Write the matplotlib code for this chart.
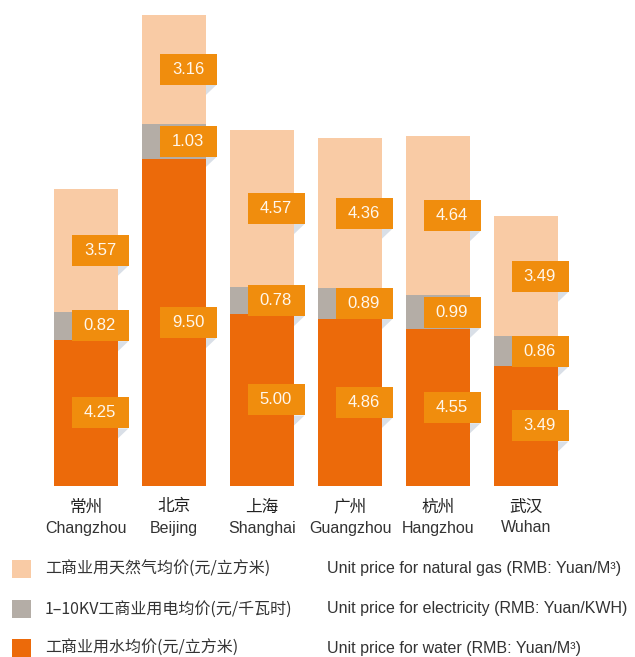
import matplotlib
matplotlib.use("Agg")
import matplotlib.pyplot as plt
import matplotlib.transforms as mtransforms
from matplotlib.patches import Rectangle, Polygon
import numpy as np

cities_cn = ["常州", "北京", "上海", "广州", "杭州", "武汉"]
cities_en = ["Changzhou", "Beijing", "Shanghai", "Guangzhou", "Hangzhou", "Wuhan"]
water = [4.25, 9.50, 5.00, 4.86, 4.55, 3.49]
electricity = [0.82, 1.03, 0.78, 0.89, 0.99, 0.86]
gas = [3.57, 3.16, 4.57, 4.36, 4.64, 3.49]

legend_cn = ["工商业用天然气均价(元/立方米)", "1–10KV工商业用电均价(元/千瓦时)", "工商业用水均价(元/立方米)"]
legend_en = ["Unit price for natural gas (RMB: Yuan/M³)",
             "Unit price for electricity (RMB: Yuan/KWH)",
             "Unit price for water (RMB: Yuan/M³)"]

C_WATER = "#EC6A0A"
C_ELEC = "#B4ADA6"
C_GAS = "#F9CBA5"
C_BOX = "#F08D0D"
C_SHADOW = "#D9DFE7"
C_TEXT = "#333333"

CJK = ["Noto Sans CJK SC", "DejaVu Sans"]
LAT = ["Liberation Sans", "DejaVu Sans"]

W, H = 635, 657
fig = plt.figure(figsize=(W / 100, H / 100), dpi=100)
ax_left, ax_right, ax_top, ax_bottom = 42, 570, 15, 486
ax = fig.add_axes([ax_left / W, (H - ax_bottom) / H, (ax_right - ax_left) / W, (ax_bottom - ax_top) / H])

x = np.arange(len(cities_en))
water_a = np.array(water)
elec_a = np.array(electricity)
gas_a = np.array(gas)
bw = 64 / 88
ax.bar(x, water_a, width=bw, color=C_WATER, linewidth=0)
ax.bar(x, elec_a, width=bw, bottom=water_a, color=C_ELEC, linewidth=0)
ax.bar(x, gas_a, width=bw, bottom=water_a + elec_a, color=C_GAS, linewidth=0)
totals = water_a + elec_a + gas_a
ax.set_xlim(-0.5, len(x) - 0.5)
ax.set_ylim(0, totals.max())
ax.axis("off")

# label boxes
box_w, box_h = 0.57, 0.31   # inches
box_dx = -0.145
bar_half = 0.32
def label(xc, ymid, val):
    tr = fig.dpi_scale_trans + mtransforms.ScaledTranslation(xc, ymid, ax.transData)
    sh = Polygon([(bar_half, -box_h / 2), (box_dx + box_w, -box_h / 2), (bar_half, -box_h / 2 - 0.10)],
                 closed=True, transform=tr, facecolor=C_SHADOW, edgecolor="none", clip_on=False)
    fig.add_artist(sh)
    r = Rectangle((box_dx, -box_h / 2), box_w, box_h, transform=tr, facecolor=C_BOX,
                  edgecolor="none", clip_on=False)
    fig.add_artist(r)
    fig.text(box_dx + box_w / 2, 0.0, f"{val:.2f}", transform=tr, ha="center", va="center",
             color="#FFF7EC", fontsize=12, family=LAT)

for i in x:
    label(i, water_a[i] / 2, water_a[i])
    label(i, water_a[i] + elec_a[i] / 2, elec_a[i])
    label(i, water_a[i] + elec_a[i] + gas_a[i] / 2, gas_a[i])

# city labels
tx = ax.get_xaxis_transform()
ah = ax_bottom - ax_top
for i in x:
    ax.text(i, (ax_bottom - 507) / ah, cities_cn[i], transform=tx, ha="center", va="center",
            fontsize=12, family=CJK, color="#222222", fontweight="medium", clip_on=False)
    ax.text(i, (ax_bottom - 528) / ah, cities_en[i], transform=tx, ha="center", va="center",
            fontsize=11.5, family=LAT, color=C_TEXT, clip_on=False)

# legend
leg_y = [569, 609, 648]
leg_c = [C_GAS, C_ELEC, C_WATER]
for yy, c, tcn, ten in zip(leg_y, leg_c, legend_cn, legend_en):
    fig.add_artist(Rectangle((12 / W, (H - yy - 9) / H), 19 / W, 18 / H, transform=fig.transFigure,
                             facecolor=c, edgecolor="none"))
    fig.text(45 / W, (H - yy) / H, tcn, ha="left", va="center", fontsize=11.5, family=CJK, color=C_TEXT)
    fig.text(327 / W, (H - yy) / H, ten, ha="left", va="center", fontsize=11.5, family=LAT, color=C_TEXT)

fig.savefig("out.png", dpi=100, facecolor="white")
